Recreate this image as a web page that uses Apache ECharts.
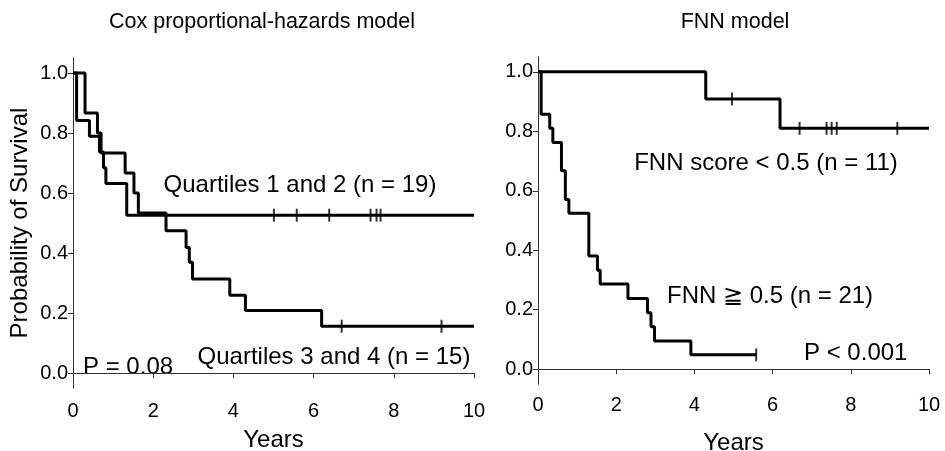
<!DOCTYPE html>
<html>
<head>
<meta charset="utf-8">
<script src="https://cdn.jsdelivr.net/npm/echarts@6/dist/echarts.min.js"></script>
<style>html,body{margin:0;padding:0;background:#fff}#c{width:945px;height:451px}</style>
</head>
<body>
<div id="c"></div>
<script>
// ---- Data ----
const yTicks = [0, 0.2, 0.4, 0.6, 0.8, 1.0];
// Left panel: Cox proportional-hazards model
const q12Times = [0, 0.09, 0.41, 0.66, 0.76, 0.82, 1.34, 10];
const q12Surv  = [1, 0.842, 0.789, 0.737, 0.684, 0.632, 0.526, 0.526];
const q12CensorTimes = [5.01, 5.58, 6.39, 7.42, 7.57, 7.67];
const q12CensorSurv  = [0.526, 0.526, 0.526, 0.526, 0.526, 0.526];

const q34Times = [0, 0.30, 0.61, 0.70, 1.30, 1.52, 1.63, 2.32, 2.82, 2.90, 2.98, 3.91, 4.30, 6.20, 10];
const q34Surv  = [1, 0.867, 0.800, 0.733, 0.667, 0.600, 0.533, 0.474, 0.418, 0.369, 0.313, 0.259, 0.208, 0.156, 0.156];
const q34CensorTimes = [6.70, 9.19];
const q34CensorSurv  = [0.156, 0.156];

// Right panel: FNN model
const lowTimes = [0, 4.29, 6.19, 10];
const lowSurv  = [1, 0.909, 0.810, 0.810];
const lowCensorTimes = [4.96, 6.69, 7.38, 7.51, 7.64, 9.19];
const lowCensorSurv  = [0.909, 0.810, 0.810, 0.810, 0.810, 0.810];

const highTimes = [0, 0.08, 0.30, 0.38, 0.60, 0.70, 0.79, 1.30, 1.52, 1.59, 2.30, 2.80, 2.89, 2.98, 3.91, 5.58];
const highSurv  = [1, 0.857, 0.810, 0.762, 0.667, 0.571, 0.524, 0.381, 0.333, 0.286, 0.238, 0.190, 0.143, 0.095, 0.048, 0.048];
const highCensorTimes = [5.58];
const highCensorSurv  = [0.048];

// ---- Build chart ----
const zip = (a, b) => a.map((v, i) => [v, b[i]]);
const FONT = "'Liberation Sans', Arial, sans-serif";
const AX = '#333';

function xBottom(grid, gap, margin) {
  return {
    gridIndex: grid, type: 'value', position: 'bottom', min: 0, max: 10, interval: 2,
    axisLine: {show: true, lineStyle: {color: AX, width: 1}},
    axisTick: {show: true, inside: false, length: 5, lineStyle: {color: AX}},
    axisLabel: {show: true, fontSize: 20, color: '#000', fontFamily: FONT, margin: margin},
    splitLine: {show: false},
    name: 'Years', nameLocation: 'middle', nameGap: gap,
    nameTextStyle: {fontSize: 24, color: '#000', fontFamily: FONT}
  };
}
function xTop(grid) {
  return {
    gridIndex: grid, type: 'value', position: 'top', min: 0, max: 10, interval: 2,
    axisLine: {show: true, lineStyle: {color: AX, width: 1}},
    axisTick: {show: true, inside: true, length: 5, lineStyle: {color: AX}},
    axisLabel: {show: false}, splitLine: {show: false}
  };
}
function yLeft(grid, name) {
  const o = {
    gridIndex: grid, type: 'value', position: 'left', min: -0.05, max: 1.05,
    axisLine: {show: true, lineStyle: {color: AX, width: 1}},
    axisTick: {show: true, inside: false, length: 5, customValues: yTicks, lineStyle: {color: AX}},
    axisLabel: {show: true, fontSize: 20, color: '#000', fontFamily: FONT, margin: 5,
      customValues: yTicks, formatter: v => Number(v).toFixed(1)},
    splitLine: {show: false}
  };
  if (name) {
    o.name = name; o.nameLocation = 'middle'; o.nameGap = 41;
    o.nameTextStyle = {fontSize: 24, color: '#000', fontFamily: FONT};
  }
  return o;
}
function yRight(grid) {
  return {
    gridIndex: grid, type: 'value', position: 'right', min: -0.05, max: 1.05,
    axisLine: {show: true, lineStyle: {color: AX, width: 1}},
    axisTick: {show: true, inside: true, length: 5, customValues: yTicks, lineStyle: {color: AX}},
    axisLabel: {show: false}, splitLine: {show: false}
  };
}
function km(name, xi, times, surv) {
  return {
    name, type: 'line', xAxisIndex: xi, yAxisIndex: xi, step: 'end',
    showSymbol: false, symbol: 'none', data: zip(times, surv),
    lineStyle: {color: '#000', width: 3}, z: 3
  };
}
function censor(name, xi, times, surv) {
  return {
    name, type: 'scatter', xAxisIndex: xi, yAxisIndex: xi, symbol: 'rect',
    symbolSize: [2, 13], data: zip(times, surv),
    itemStyle: {color: '#000'}, z: 4
  };
}
function txt(x, y, s, size, align) {
  return {type: 'text', x, y, style: {text: s, fontSize: size, fontFamily: FONT,
    fill: '#000', align: align || 'center', verticalAlign: 'middle'}};
}

const chart = echarts.init(document.getElementById('c'), null, {renderer: 'canvas'});
chart.setOption({
  animation: false,
  backgroundColor: '#fff',
  grid: [
    {left: 73, top: 58, width: 401, height: 330, containLabel: false, outerBoundsMode: 'none'},
    {left: 538, top: 57, width: 391, height: 327, containLabel: false, outerBoundsMode: 'none'}
  ],
  xAxis: [xBottom(0, 40, 13), xTop(0), xBottom(1, 47, 11), xTop(1)],
  yAxis: [yLeft(0, 'Probability of Survival'), yRight(0), yLeft(1, null), yRight(1)],
  series: [
    km('Quartiles 1 and 2', 0, q12Times, q12Surv),
    censor('Quartiles 1 and 2 censored', 0, q12CensorTimes, q12CensorSurv),
    km('Quartiles 3 and 4', 0, q34Times, q34Surv),
    censor('Quartiles 3 and 4 censored', 0, q34CensorTimes, q34CensorSurv),
    km('FNN score < 0.5', 2, lowTimes, lowSurv),
    censor('FNN score < 0.5 censored', 2, lowCensorTimes, lowCensorSurv),
    km('FNN >= 0.5', 2, highTimes, highSurv),
    censor('FNN >= 0.5 censored', 2, highCensorTimes, highCensorSurv)
  ],
  graphic: [
    txt(262, 22, 'Cox proportional-hazards model', 21.5),
    txt(735, 22, 'FNN model', 21.5),
    txt(300, 185, 'Quartiles 1 and 2 (n = 19)', 24),
    txt(334, 357, 'Quartiles 3 and 4 (n = 15)', 24),
    txt(83, 367, 'P = 0.08', 24, 'left'),
    txt(766, 163, 'FNN score < 0.5 (n = 11)', 24),
    txt(667, 296, 'FNN ≧ 0.5 (n = 21)', 24, 'left'),
    txt(804, 353, 'P < 0.001', 24, 'left')
  ]
});
</script>
</body>
</html>
